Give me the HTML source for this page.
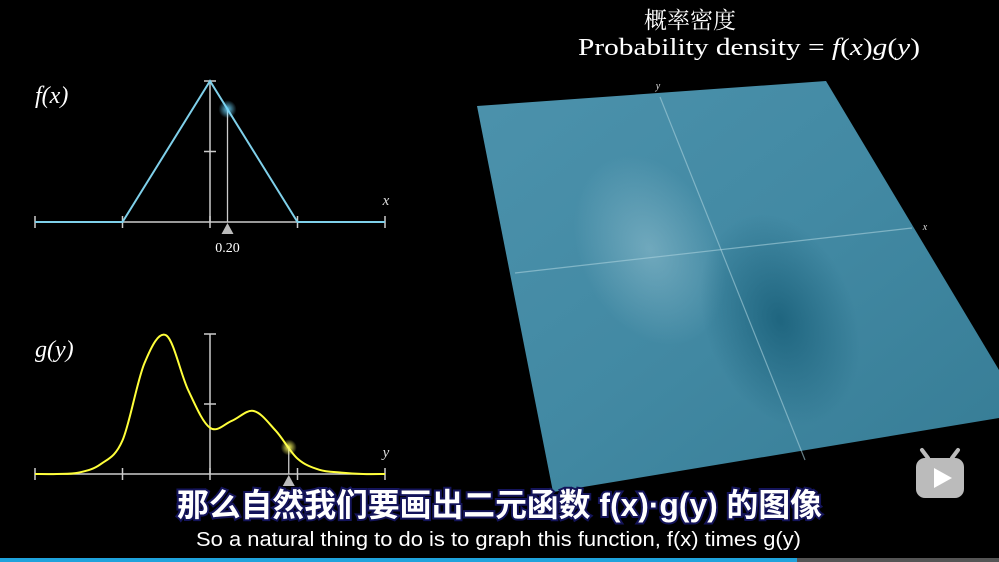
<!DOCTYPE html>
<html><head><meta charset="utf-8"><style>
html,body{margin:0;padding:0;background:#000;width:999px;height:562px;overflow:hidden}
svg{display:block}
</style></head><body>
<svg id="root" width="999" height="562" viewBox="0 0 999 562">
<defs>
<linearGradient id="plane" x1="0" y1="0" x2="1" y2="1">
<stop offset="0" stop-color="#4c92ac"/><stop offset="0.5" stop-color="#4289a3"/><stop offset="1" stop-color="#367c95"/>
</linearGradient>
<radialGradient id="dark" cx="0.5" cy="0.5" r="0.5">
<stop offset="0" stop-color="#145a74" stop-opacity="0.75"/><stop offset="1" stop-color="#145a74" stop-opacity="0"/>
</radialGradient>
<radialGradient id="light" cx="0.5" cy="0.5" r="0.5">
<stop offset="0" stop-color="#9cc6d4" stop-opacity="0.5"/><stop offset="1" stop-color="#9cc6d4" stop-opacity="0"/>
</radialGradient>
<radialGradient id="glowB"><stop offset="0" stop-color="#6fd8ff" stop-opacity="0.9"/><stop offset="1" stop-color="#6fd8ff" stop-opacity="0"/></radialGradient>
<radialGradient id="glowY"><stop offset="0" stop-color="#ffff60" stop-opacity="0.95"/><stop offset="1" stop-color="#ffff60" stop-opacity="0"/></radialGradient>
</defs>

<g>
<polygon points="477,106 826,81 999,370 999,418 553,492" fill="url(#plane)"/>
<ellipse cx="650" cy="250" rx="70" ry="100" fill="url(#light)" transform="rotate(-25 650 250)"/>
<ellipse cx="780" cy="320" rx="75" ry="110" fill="url(#dark)" transform="rotate(-20 780 320)"/>
<line x1="660" y1="97" x2="805" y2="460" stroke="#a8d0dc" stroke-opacity="0.6" stroke-width="1.2"/>
<line x1="515" y1="273" x2="912" y2="228" stroke="#a8d0dc" stroke-opacity="0.6" stroke-width="1.2"/>
<text x="658" y="89" fill="#ddd" font-family="Liberation Serif, serif" font-style="italic" font-size="10" text-anchor="middle">y</text>
<text x="925" y="230" fill="#ddd" font-family="Liberation Serif, serif" font-style="italic" font-size="10" text-anchor="middle">x</text>
</g>

<text x="690" y="28" fill="#fff" font-family="'Noto Serif CJK SC', serif" font-size="23" text-anchor="middle">概率密度</text>
<text x="578" y="55" fill="#fff" font-family="Liberation Serif, serif" font-size="24" textLength="342" lengthAdjust="spacingAndGlyphs">Probability density = <tspan font-style="italic">f</tspan>(<tspan font-style="italic">x</tspan>)<tspan font-style="italic">g</tspan>(<tspan font-style="italic">y</tspan>)</text>

<g id="fchart"></g>
<g id="gchart"></g>

<g>
<rect x="916" y="458" width="48" height="40" rx="9" fill="#bbb"/>
<line x1="928" y1="458" x2="922" y2="450" stroke="#bbb" stroke-width="4" stroke-linecap="round"/>
<line x1="952" y1="458" x2="958" y2="450" stroke="#bbb" stroke-width="4" stroke-linecap="round"/>
<polygon points="934,468 934,488 952,478" fill="#fff"/>
</g>

<text x="177" y="516" fill="#fff" stroke="#14145a" stroke-width="4" paint-order="stroke" font-family="'Liberation Sans','Noto Sans CJK SC',sans-serif" font-weight="bold" font-size="32" textLength="645" lengthAdjust="spacingAndGlyphs">那么自然我们要画出二元函数 f(x)·g(y) 的图像</text>
<text x="196" y="546" fill="#fff" font-family="'Liberation Sans',sans-serif" font-size="20" textLength="605" lengthAdjust="spacingAndGlyphs">So a natural thing to do is to graph this function, f(x) times g(y)</text>
<rect x="0" y="558" width="797" height="4" fill="#1fa3dc"/>
<rect x="797" y="558" width="202" height="4" fill="#555"/>
</svg>
<script>
const NS="http://www.w3.org/2000/svg";
const xTicks=[-2,-1,0,1,2];
const fXs=[-2,-1,0,1,2];
const fVals=[0,0,1,0,0];
const fMarkerX=[0.2];
const fMarkerLabel=["0.20"];
const gXs=[-2,-1.75,-1.5,-1.25,-1,-0.75,-0.5,-0.25,0,0.25,0.5,0.75,1,1.25,1.5,1.75,2];
const gVals=[0,0,0.01,0.07,0.24,0.79,0.99,0.6,0.33,0.38,0.45,0.31,0.11,0.03,0.01,0,0];
const gMarkerX=[0.9];

function mk(parent,tag,attrs){const e=document.createElementNS(NS,tag);for(const k in attrs)e.setAttribute(k,attrs[k]);parent.appendChild(e);return e;}
function sx(v){return 210+v*87.5;}

function axes(g,baseY,topY,label,labelTxt,axisLbl){
  const a=mk(g,'line',{x1:35,y1:baseY,x2:385,y2:baseY,stroke:'#ccc','stroke-width':1.5});
  
  
  xTicks.forEach(t=>{const tk=mk(g,'line',{x1:sx(t),y1:baseY-6,x2:sx(t),y2:baseY+6,stroke:'#ccc','stroke-width':1.5});
    
    });
  const v=mk(g,'line',{x1:210,y1:topY,x2:210,y2:baseY,stroke:'#ccc','stroke-width':1.5});
  
  
  [topY,(topY+baseY)/2].forEach(y=>{const tk=mk(g,'line',{x1:204,y1:y,x2:216,y2:y,stroke:'#ccc','stroke-width':1.5});
    
    });
  const t=mk(g,'text',{x:35,y:labelTxt,fill:'#fff','font-family':'Liberation Serif, serif','font-style':'italic','font-size':24});
  t.textContent=label;
  
  
  const al=mk(g,'text',{x:386,y:baseY-17,fill:'#ddd','font-family':'Liberation Serif, serif','font-style':'italic','font-size':15,'text-anchor':'middle'});
  al.textContent=axisLbl;
  
  
}

const fg=document.getElementById('fchart');
const fBase=222,fScale=141;
axes(fg,fBase,fBase-fScale,'f(x)',103,'x');
const fy=v=>fBase-v*fScale;
const fp=mk(fg,'polyline',{points:fXs.map((x,i)=>sx(x)+','+fy(fVals[i])).join(' '),fill:'none',stroke:'#7fd0ea','stroke-width':2});


function fInterp(x){for(let i=0;i<fXs.length-1;i++){if(x>=fXs[i]&&x<=fXs[i+1]){const t=(x-fXs[i])/(fXs[i+1]-fXs[i]);return fVals[i]+t*(fVals[i+1]-fVals[i]);}}return 0;}
fMarkerX.forEach((mx,i)=>{
  const X=sx(mx),Y=fy(fInterp(mx));
  const l=mk(fg,'line',{x1:X,y1:Y,x2:X,y2:fBase,stroke:'#ccc','stroke-width':1.3});
  
  
  const gl=mk(fg,'circle',{cx:X,cy:Y,r:9,fill:'url(#glowB)'});
  
  
  const tr=mk(fg,'polygon',{points:`${X},${fBase+1} ${X-6},${fBase+12} ${X+6},${fBase+12}`,fill:'#bbb'});
  
  
  const tx=mk(fg,'text',{x:X,y:fBase+30,fill:'#fff','font-family':'Liberation Serif, serif','font-size':14,'text-anchor':'middle'});
  tx.textContent=fMarkerLabel[i];
  
  
});

const gg=document.getElementById('gchart');
const gBase=474,gScale=140;
axes(gg,gBase,gBase-gScale,'g(y)',357,'y');
const gy=v=>gBase-v*gScale;
const pts=gXs.map((x,i)=>[sx(x),gy(gVals[i])]);
let d=`M${pts[0][0]},${pts[0][1]}`;
for(let i=0;i<pts.length-1;i++){
  const p0=pts[Math.max(0,i-1)],p1=pts[i],p2=pts[i+1],p3=pts[Math.min(pts.length-1,i+2)];
  const c1=[p1[0]+(p2[0]-p0[0])/6,p1[1]+(p2[1]-p0[1])/6];
  const c2=[p2[0]-(p3[0]-p1[0])/6,p2[1]-(p3[1]-p1[1])/6];
  d+=` C${c1[0]},${c1[1]} ${c2[0]},${c2[1]} ${p2[0]},${p2[1]}`;
}
const gp=mk(gg,'path',{d:d,fill:'none',stroke:'#ffff3a','stroke-width':2});


function gInterp(x){for(let i=0;i<gXs.length-1;i++){if(x>=gXs[i]&&x<=gXs[i+1]){const t=(x-gXs[i])/(gXs[i+1]-gXs[i]);return gVals[i]+t*(gVals[i+1]-gVals[i]);}}return 0;}
gMarkerX.forEach(mx=>{
  const X=sx(mx),Y=gy(gInterp(mx));
  const l=mk(gg,'line',{x1:X,y1:Y,x2:X,y2:gBase,stroke:'#ccc','stroke-width':1.3});
  
  
  const gl=mk(gg,'circle',{cx:X,cy:Y,r:8,fill:'url(#glowY)'});
  
  
  const tr=mk(gg,'polygon',{points:`${X},${gBase+1} ${X-6},${gBase+12} ${X+6},${gBase+12}`,fill:'#bbb'});
  
  
});
</script>
</body></html>
